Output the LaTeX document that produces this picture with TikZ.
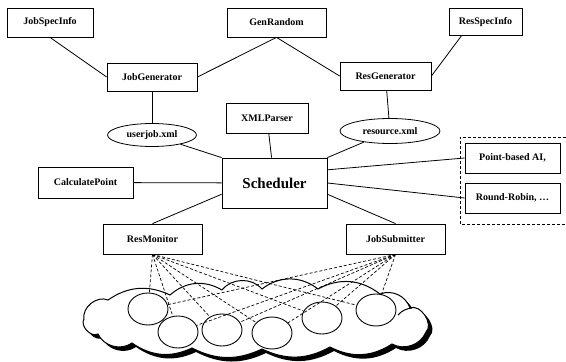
\documentclass[tikz,border=0pt]{standalone}
\usepackage{fontspec}
\setmainfont{Liberation Serif}
\usetikzlibrary{shapes.geometric}

% Umriss der Grid-Wolke
\newcommand{\gridcloudpath}{(84,319) to[bend left=62] (108,300) to[bend left=30] (170,295)
	to[bend left=36] (222,290) to[bend left=50] (262,289) to[bend left=38] (318,289)
	to[bend left=33] (380,294) to[bend left=46] (410,308) to[bend left=80] (426,332)
	to[bend left=48] (392,344) to[bend left=30] (330,347) to[bend left=27] (262,349)
	to[bend left=26] (192,348) to[bend left=30] (132,343) to[bend left=50] (98,334)
	to[bend left=75] cycle}

\tikzset{
	box/.style={draw, rectangle, line width=0.8pt, inner sep=0pt, font=\fontsize{10}{11}\selectfont\bfseries},
	xmlfile/.style={draw, ellipse, line width=0.8pt, inner sep=0pt, font=\fontsize{10}{11}\selectfont\bfseries},
	host/.style={draw, ellipse, fill=white, line width=0.9pt, minimum width=40, minimum height=32},
	link/.style={line width=0.8pt},
	probe/.style={densely dashed, line width=0.7pt},
}

\begin{document}
\begin{tikzpicture}[x=1pt, y=-1pt]
	\useasboundingbox (0,0) rectangle (566,362);

	% Infos oben
	\node[box, minimum width=86, minimum height=29] (jobspec) at (50,22.5) {JobSpecInfo};
	\node[box, minimum width=99, minimum height=29] (genrandom) at (276.5,22.5) {GenRandom};
	\node[box, minimum width=73, minimum height=27] (resspec) at (485.5,22) {ResSpecInfo};

	% Generatoren
	\node[box, minimum width=90, minimum height=28] (jobgen) at (152,77) {JobGenerator};
	\node[box, minimum width=91, minimum height=28] (resgen) at (385.5,76) {ResGenerator};
	\node[xmlfile, minimum width=89, minimum height=23] (userjob) at (152,135) {userjob.xml};
	\node[xmlfile, minimum width=100, minimum height=25] (resource) at (390,131) {resource.xml};

	% Scheduler
	\node[box, minimum width=82, minimum height=30] (xmlparser) at (267,118) {XMLParser};
	\node[box, minimum width=105, minimum height=50, font=\fontsize{15}{17}\selectfont\bfseries] (scheduler) at (274.5,183) {Scheduler};
	\node[box, minimum width=95, minimum height=31] (calcpoint) at (85.5,182.5) {CalculatePoint};
	\node[box, minimum width=99, minimum height=30] (resmonitor) at (152.5,239) {ResMonitor};
	\node[box, minimum width=99, minimum height=30] (jobsubmitter) at (395.5,239) {JobSubmitter};

	% Strategien
	\node[box, minimum width=95, minimum height=30] (pointai) at (512.5,158) {Point-based AI,};
	\node[box, minimum width=95, minimum height=30] (roundrobin) at (512.5,198) {Round-Robin, \ldots};
	\draw[probe] (566,137) -| (460,224) -- (566,224);

	% Verbindungen
	\draw[link] (jobspec.south) -- (jobgen.west);
	\draw[link] (genrandom.south) -- (jobgen.east);
	\draw[link] (genrandom.south) -- (resgen.west);
	\draw[link] (resspec.210) -- (resgen.east);
	\draw[link] (jobgen) -- (userjob);
	\draw[link] (resgen) -- (resource);
	\draw[link] (userjob) -- (scheduler.north west);
	\draw[link] (resource) -- (scheduler.north east);
	\draw[link] (xmlparser) -- (scheduler);
	\draw[link] (calcpoint) -- (scheduler);
	\draw[link] (scheduler.192) -- (resmonitor.north);
	\draw[link] (scheduler.-12) -- (jobsubmitter.north);
	\draw[link] (scheduler.14) -- (pointai.west);
	\draw[link] (scheduler.east) -- (roundrobin.west);

	% Grid-Wolke mit Schatten
	\fill[black, shift={(4,4)}] \gridcloudpath;
	\draw[fill=white, line width=1pt] \gridcloudpath;
	\draw[line width=1pt] (398,315) to[bend left=20] (412,308);

	% Knoten in der Wolke
	\foreach \i/\x/\y in {1/148/309, 2/178/332, 3/222/330, 4/272/333, 5/322/318, 6/376/310}
		\node[host] (c\i) at (\x,\y) {};
	\foreach \i in {1,...,6} {
		\draw[probe] (resmonitor.south) -- (c\i);
		\draw[probe] (jobsubmitter.south) -- (c\i);
	}
\end{tikzpicture}
\end{document}
